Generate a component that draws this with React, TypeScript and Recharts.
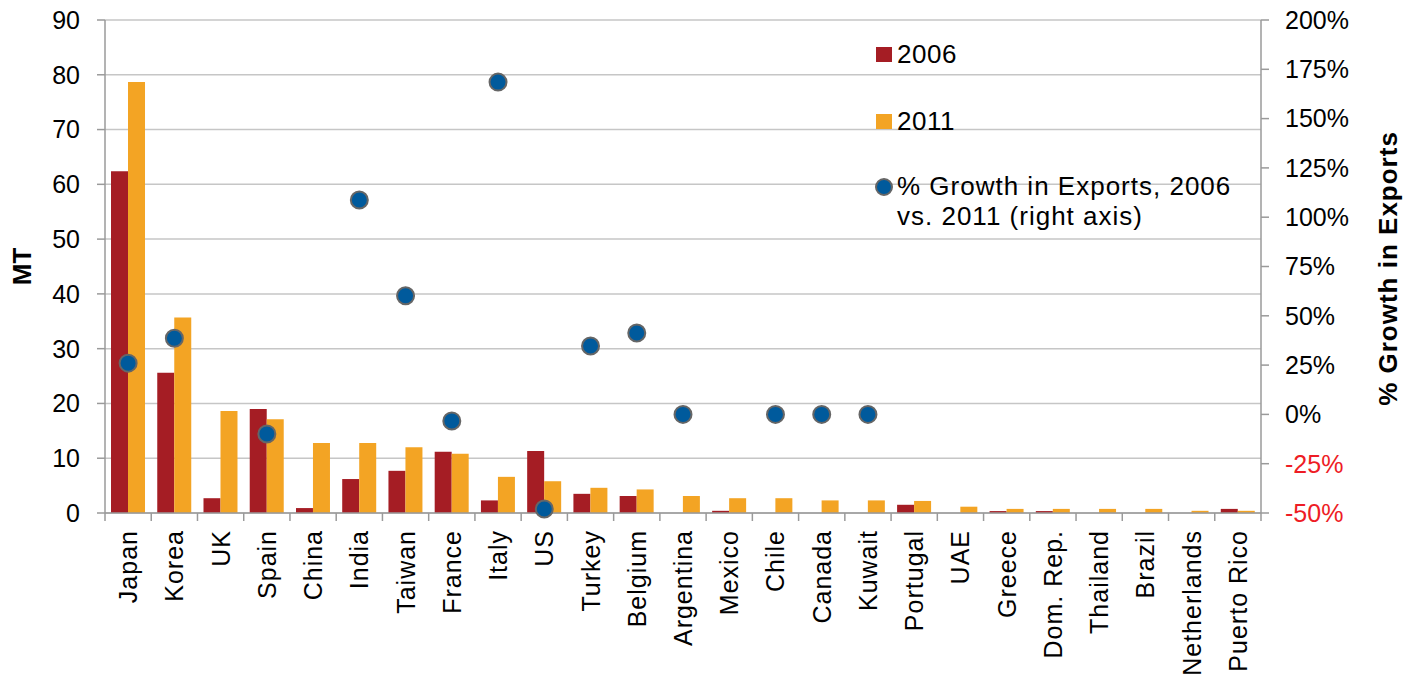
import { Bar, CartesianGrid, ComposedChart, Legend, Line, XAxis, YAxis, Label } from "recharts";

const countries = [
	"Japan", "Korea", "UK", "Spain", "China", "India", "Taiwan", "France", "Italy", "US",
	"Turkey", "Belgium", "Argentina", "Mexico", "Chile", "Canada", "Kuwait", "Portugal",
	"UAE", "Greece", "Dom. Rep.", "Thailand", "Brazil", "Netherlands", "Puerto Rico",
];
const mt2006 = [62.4, 25.6, 2.7, 19.0, 0.9, 6.2, 7.7, 11.2, 2.3, 11.3, 3.5, 3.1, 0, 0.4, 0, 0, 0, 1.5, 0, 0.35, 0.35, 0, 0, 0, 0.75];
const mt2011 = [78.7, 35.7, 18.6, 17.1, 12.8, 12.8, 12.0, 10.8, 6.6, 5.8, 4.6, 4.3, 3.1, 2.7, 2.7, 2.3, 2.3, 2.2, 1.15, 0.75, 0.75, 0.75, 0.75, 0.4, 0.4];
const growth = [26, 38.6, null, -9.9, null, 108.7, 60.2, -3.3, 168.5, -48, 34.7, 41.3, 0, null, 0, 0, 0, null, null, null, null, null, null, null, null];
const leftTicks = [0, 10, 20, 30, 40, 50, 60, 70, 80, 90];
const rightTicks = [-50, -25, 0, 25, 50, 75, 100, 125, 150, 175, 200];

const data = countries.map((c, i) => ({ country: c, y2006: mt2006[i], y2011: mt2011[i], growth: growth[i] }));

const FONT = "Arial, 'Liberation Sans', sans-serif";
const RED = "#a51d24";
const ORANGE = "#f3a424";
const BLUE = "#005a9c";
const AXIS = "#9a9a9a";

const W = 1411;
const H = 679;
const LEFT_W = 105;
const RIGHT_W = 150;
const BAND = (W - LEFT_W - RIGHT_W) / countries.length;

const CountryTick = (props: any) => {
	const { x, y, payload, index } = props;
	return (
		<g>
			<line x1={x - BAND / 2} x2={x - BAND / 2} y1={y} y2={y + 8} stroke={AXIS} strokeWidth={1.5} />
			{index === countries.length - 1 && (
				<line x1={x + BAND / 2} x2={x + BAND / 2} y1={y} y2={y + 8} stroke={AXIS} strokeWidth={1.5} />
			)}
			<text
				transform={`translate(${x},${y + 17}) rotate(-90)`}
				textAnchor="end"
				dominantBaseline="central"
				fontSize={25}
				letterSpacing={1}
				fontFamily={FONT}
				fill="#000"
			>
				{payload.value}
			</text>
		</g>
	);
};

const PctTick = (props: any) => {
	const { x, y, payload } = props;
	return (
		<text x={x} y={y} dy="0.355em" textAnchor="start" fontSize={25} fontFamily={FONT} fill={payload.value < 0 ? "#ee1c25" : "#000"}>
			{`${payload.value}%`}
		</text>
	);
};

const GrowthDot = (props: any) => {
	const { cx, cy, payload, index } = props;
	if (payload.growth == null || cy == null) return <g key={index} />;
	return <circle key={index} cx={cx} cy={cy} r={8.5} fill={BLUE} stroke="#666" strokeWidth={2} />;
};

const LegendBox = () => (
	<div style={{ fontFamily: FONT, fontSize: 26, color: "#000", position: "relative", width: 360, height: 200 }}>
		<div style={{ position: "absolute", left: 0, top: 0, display: "flex", alignItems: "center", letterSpacing: 0.5 }}>
			<span style={{ width: 16, height: 15, background: RED, display: "inline-block", marginRight: 5 }} />
			<span>2006</span>
		</div>
		<div style={{ position: "absolute", left: 0, top: 67, display: "flex", alignItems: "center", letterSpacing: 0.5 }}>
			<span style={{ width: 16, height: 15, background: ORANGE, display: "inline-block", marginRight: 5 }} />
			<span>2011</span>
		</div>
		<div style={{ position: "absolute", left: -2, top: 132, display: "flex", alignItems: "flex-start", lineHeight: "30px", letterSpacing: 1, whiteSpace: "nowrap" }}>
			<svg width={20} height={20} style={{ marginTop: 6, marginRight: 3 }}>
				<circle cx={10} cy={10} r={8} fill={BLUE} stroke="#666" strokeWidth={2} />
			</svg>
			<span>
				% Growth in Exports, 2006
				<br />
				vs. 2011 (right axis)
			</span>
		</div>
	</div>
);

const App = () => {
	return (
		<div style={{ position: "absolute", left: 0, top: 0, background: "#fff" }}>
			<ComposedChart
				width={W}
				height={H}
				data={data}
				margin={{ top: 20, right: 0, left: 0, bottom: 0 }}
				barCategoryGap="13%"
				barGap={0}
			>
				<CartesianGrid vertical={false} stroke="#c6c6c6" strokeWidth={1.5} yAxisId="left" />
				<XAxis
					dataKey="country"
					height={166}
					interval={0}
					tickLine={false}
					tickSize={0}
					tickMargin={0}
					tick={<CountryTick />}
					axisLine={{ stroke: AXIS, strokeWidth: 1.5 }}
				/>
				<YAxis
					yAxisId="left"
					orientation="left"
					width={LEFT_W}
					domain={[0, 90]}
					ticks={leftTicks}
					interval={0}
					tickSize={8}
					tickMargin={17}
					tickLine={{ stroke: AXIS, strokeWidth: 1.5 }}
					axisLine={{ stroke: AXIS, strokeWidth: 1.5 }}
					tick={{ fontSize: 25, fontFamily: FONT, fill: "#000" }}
				>
					<Label
						content={(p: any) => {
							const vb = p.viewBox;
							return (
								<text
									transform={`translate(${vb.x + 22},${vb.y + vb.height / 2}) rotate(-90)`}
									textAnchor="middle"
									dominantBaseline="central"
									fontSize={26}
									fontWeight="bold"
									fontFamily={FONT}
								>
									MT
								</text>
							);
						}}
					/>
				</YAxis>
				<YAxis
					yAxisId="right"
					orientation="right"
					width={RIGHT_W}
					domain={[-50, 200]}
					ticks={rightTicks}
					interval={0}
					tickSize={8}
					tickMargin={16}
					tickLine={{ stroke: AXIS, strokeWidth: 1.5 }}
					axisLine={{ stroke: AXIS, strokeWidth: 1.5 }}
					tick={<PctTick />}
				>
					<Label
						content={(p: any) => {
							const vb = p.viewBox;
							return (
								<text
									transform={`translate(${vb.x + 127},${vb.y + vb.height / 2 + 2}) rotate(-90)`}
									textAnchor="middle"
									dominantBaseline="central"
									fontSize={26}
									letterSpacing={1}
									fontWeight="bold"
									fontFamily={FONT}
								>
									% Growth in Exports
								</text>
							);
						}}
					/>
				</YAxis>
				<Legend
					layout="vertical"
					align="center"
					verticalAlign="middle"
					wrapperStyle={{ top: 39, left: 876, width: 360 }}
					content={<LegendBox />}
				/>
				<Bar yAxisId="left" dataKey="y2006" name="2006" fill={RED} isAnimationActive={false} />
				<Bar yAxisId="left" dataKey="y2011" name="2011" fill={ORANGE} isAnimationActive={false} />
				<Line
					yAxisId="right"
					dataKey="growth"
					name="% Growth in Exports, 2006 vs. 2011 (right axis)"
					stroke="none"
					strokeWidth={0}
					dot={<GrowthDot />}
					activeDot={false}
					isAnimationActive={false}
				/>
			</ComposedChart>
		</div>
	);
};

export default App;
